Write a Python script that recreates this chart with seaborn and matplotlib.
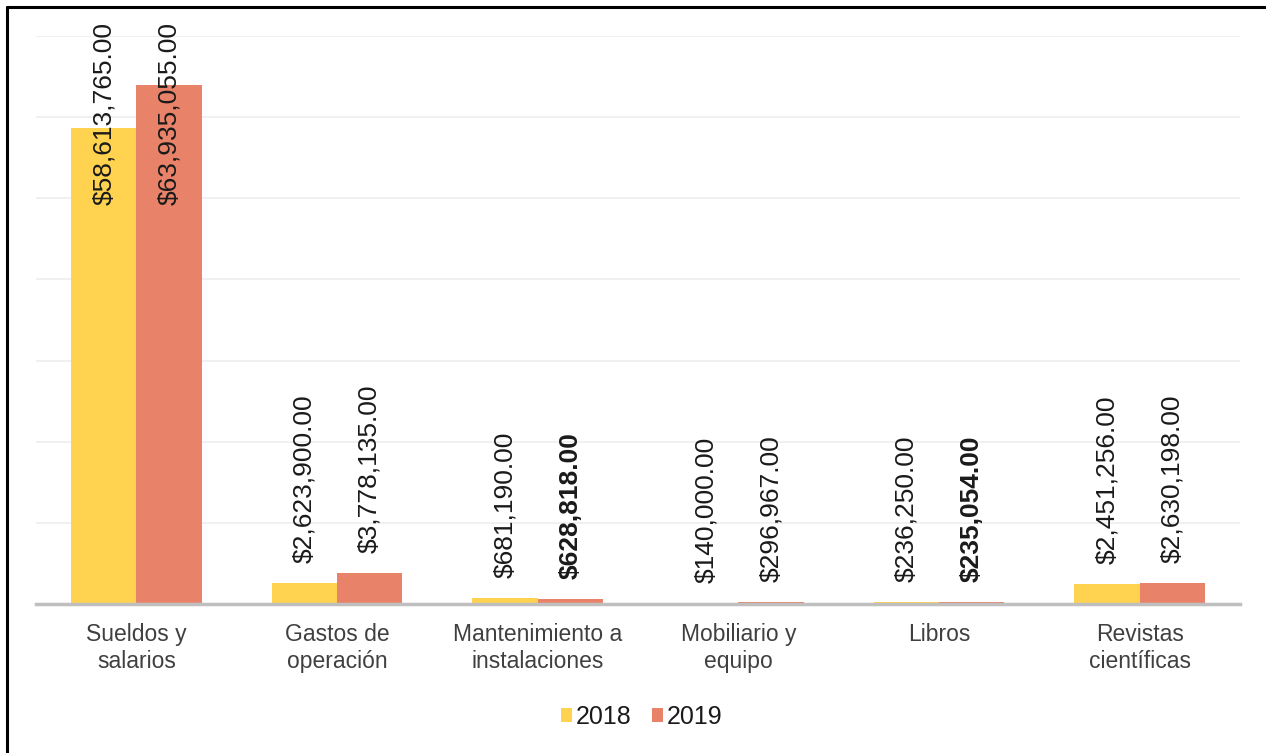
import matplotlib
matplotlib.use("Agg")
import matplotlib.pyplot as plt
import seaborn as sns
import pandas as pd
from matplotlib.lines import Line2D

# Datos del gráfico
categorias = ["Sueldos y\nsalarios", "Gastos de\noperación", "Mantenimiento a\ninstalaciones",
              "Mobiliario y\nequipo", "Libros", "Revistas\ncientíficas"]
anios = ["2018", "2019"]
monto_2018 = [58613765.00, 2623900.00, 681190.00, 140000.00, 236250.00, 2451256.00]
monto_2019 = [63935055.00, 3778135.00, 628818.00, 296967.00, 235054.00, 2630198.00]
colores = {"2018": "#FFD34F", "2019": "#E8836A"}

sns.set_theme(style="white")
plt.rcParams['font.family'] = ['Liberation Sans Narrow', 'Liberation Sans', 'DejaVu Sans']

df = pd.DataFrame({
    "categoria": categorias * 2,
    "anio": [anios[0]] * len(categorias) + [anios[1]] * len(categorias),
    "monto": monto_2018 + monto_2019,
})

W, H = 1266, 753
fig = plt.figure(figsize=(W / 100, H / 100), dpi=100)
ax = fig.add_axes([36 / W, 1 - 604 / H, 1204 / W, 568 / H])

sns.barplot(data=df, x="categoria", y="monto", hue="anio", palette=colores,
            width=0.65, gap=0, saturation=1, ax=ax, linewidth=0)

ymax = 70e6
ax.set_ylim(0, ymax)
ax.set_xlim(-0.5, len(categorias) - 0.5)
ax.set_yticks([i * 10e6 for i in range(8)])
ax.set_yticklabels([])
ax.yaxis.grid(True, color="#efefef", linewidth=1.3)
ax.set_axisbelow(True)
ax.tick_params(left=False, bottom=False, axis="x", labelsize=16.5, labelcolor="#404040", pad=8)
ax.set_xlabel("")
ax.set_ylabel("")
for s in ["left", "right", "top"]:
    ax.spines[s].set_visible(False)
ax.spines["bottom"].set_color("#bfbfbf")
ax.spines["bottom"].set_linewidth(2.5)

# etiquetas de valor (negritas cuando 2019 baja respecto a 2018)
for k, cont in enumerate(ax.containers[:2]):
    for j, bar in enumerate(cont):
        v = bar.get_height()
        x = bar.get_x() + bar.get_width() / 2
        bold = k == 1 and monto_2019[j] < monto_2018[j]
        txt = f"${v:,.2f}"
        if v > 0.5 * ymax:
            ax.annotate(txt, xy=(x, 1), xycoords=("data", "axes fraction"),
                        xytext=(0, 14), textcoords="offset pixels",
                        rotation=90, ha="center", va="top", fontsize=19,
                        color="#1a1a1a", fontweight="bold" if bold else "normal")
        else:
            ax.annotate(txt, xy=(x, v), xytext=(0, 20), textcoords="offset pixels",
                        rotation=90, ha="center", va="bottom", fontsize=19,
                        color="#1a1a1a", fontweight="bold" if bold else "normal")

sns.move_legend(ax, "center", bbox_to_anchor=(0.507, 1 - 717 / H), bbox_transform=fig.transFigure,
                ncol=2, frameon=False, title=None, fontsize=18, handlelength=0.45,
                handleheight=0.45, handletextpad=0.15, columnspacing=0.8)
for t in ax.get_legend().get_texts():
    t.set_color("#1a1a1a")

# marco parcial de la imagen
fig.add_artist(Line2D([7 / W, 7 / W], [0, 1 - 7 / H], transform=fig.transFigure, color="black", lw=2.2))
fig.add_artist(Line2D([7 / W, 1], [1 - 7 / H, 1 - 7 / H], transform=fig.transFigure, color="black", lw=2.2))

fig.savefig("out.png", dpi=100)
